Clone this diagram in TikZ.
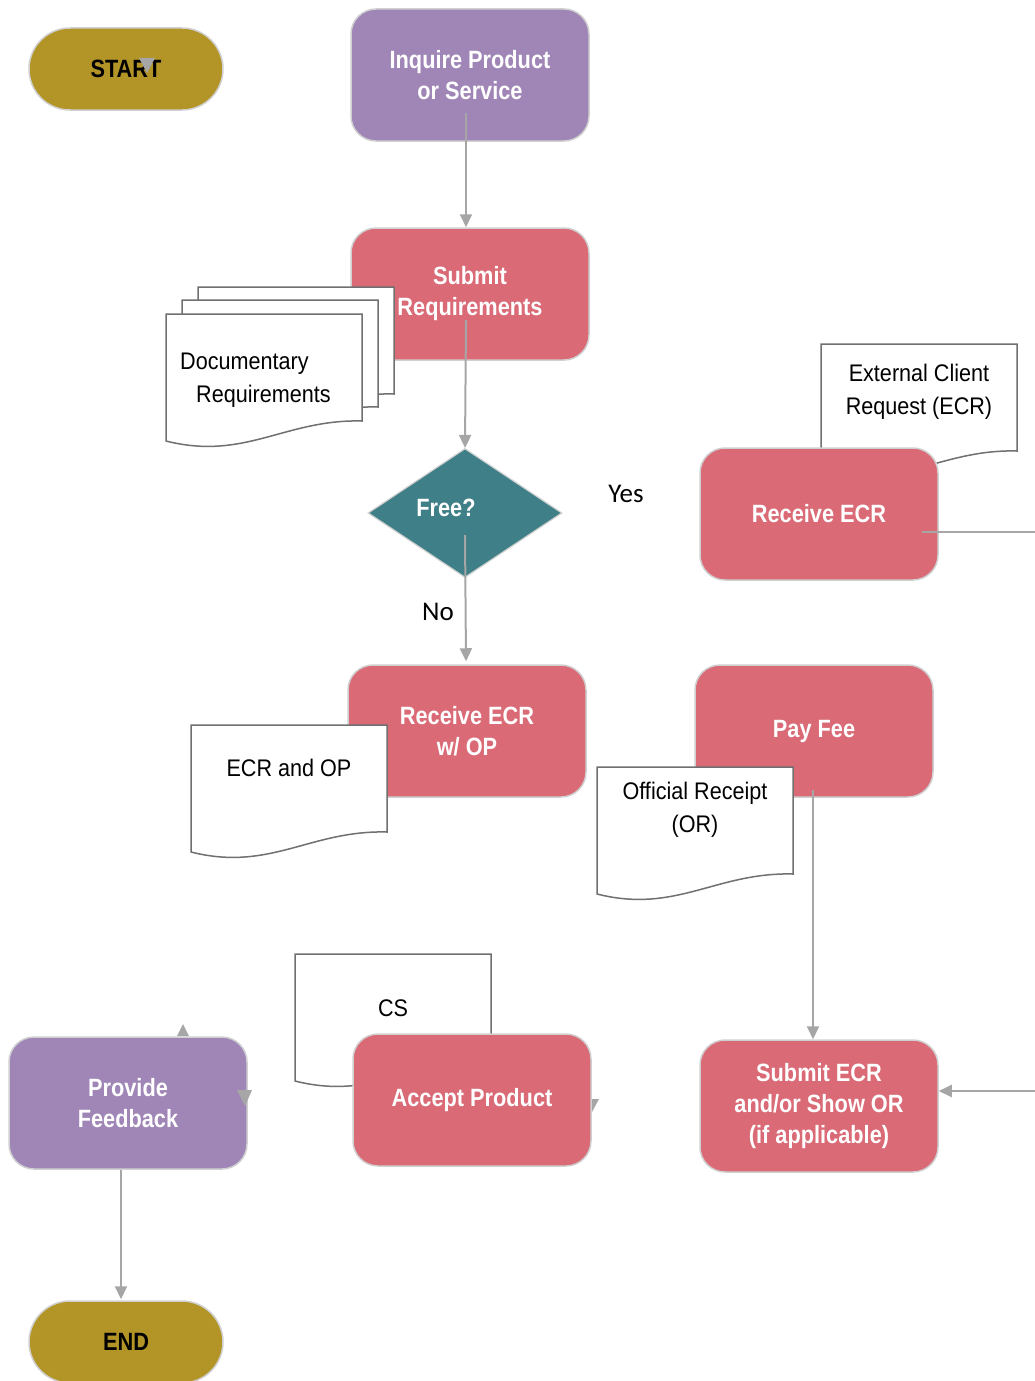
\documentclass[tikz,border=0pt]{standalone}
\usepackage{fontspec}
\setmainfont{Liberation Sans}
\newfontfamily\narrowfont[FakeStretch=0.87]{Liberation Sans}
\newfontfamily\docfont[FakeStretch=0.9]{Liberation Sans}
\newfontfamily\calfont{Carlito}
\usetikzlibrary{shapes.geometric,arrows.meta}
\definecolor{pinkc}{HTML}{D96A76}
\definecolor{purpc}{HTML}{A086B7}
\definecolor{goldc}{HTML}{B39427}
\definecolor{tealc}{HTML}{3F7F87}
\definecolor{bordergray}{HTML}{D0D0D0}
\definecolor{linegray}{HTML}{A6A6A6}
\definecolor{docgray}{HTML}{707070}
\tikzset{
  box/.style={rectangle, rounded corners=25pt, minimum width=238pt, minimum height=132pt,
    inner sep=0pt, draw=bordergray, line width=1.5pt, text=white, align=center,
    font=\narrowfont\bfseries\fontsize{25}{31}\selectfont},
  pinkbox/.style={box, fill=pinkc},
  purpbox/.style={box, fill=purpc},
  pill/.style={rectangle, rounded corners=41pt, minimum width=194pt, minimum height=82pt,
    inner sep=0pt, draw=bordergray, line width=1.5pt, fill=goldc, text=black,
    font=\narrowfont\bfseries\fontsize{25}{31}\selectfont},
  decision/.style={diamond, minimum width=194pt, minimum height=129pt, shape aspect=1.5,
    inner sep=0pt, fill=tealc, draw=bordergray, line width=1.2pt},
  doctext/.style={align=center, text=black, inner sep=0pt,
    font=\docfont\fontsize{24}{33}\selectfont},
  docline/.style={draw=docgray, fill=white, line width=1.5pt},
  ynlabel/.style={text=black, inner sep=0pt, font=\calfont\fontsize{27}{30}\selectfont},
  conn/.style={draw=linegray, line width=2pt},
  arr/.style={conn, -{Triangle[width=12pt,length=13pt]}},
  tip/.style={fill=linegray}
}
\newcommand\docshape[2]{%
  \path[docline] (#1,#2) -- ++(196,0) -- ++(0,107)
    .. controls +(-77,-2) and +(79,20) .. ++(-196,20) -- cycle;}
\begin{document}
\begin{tikzpicture}[x=1pt,y=-1pt]
\useasboundingbox (0,0) rectangle (1035,1381);

% terminals
\node[pill] (start) at (126,69) {START};
\fill[tip] (139,58) -- (155,58) -- (147,73) -- cycle;
\node[pill] (end) at (126,1342) {END};

% column 1
\node[purpbox] (inq) at (470,75) {Inquire Product\\or Service};
\node[pinkbox] (subreq) at (470,294) {Submit\\Requirements};

% documentary requirements stack
\docshape{198}{287}
\docshape{182}{300}
\docshape{166}{314}
\node[doctext, align=left, anchor=west] (docreq) at (180,380) {Documentary\\\hspace*{16pt}Requirements};

\node[decision] (free) at (465,513) {};
\node[text=white, inner sep=0pt, font=\narrowfont\bfseries\fontsize{25}{31}\selectfont] (freetxt) at (446,508) {Free?};
\node[ynlabel] (yes) at (626,494) {Yes};
\node[ynlabel] (no) at (438,612) {No};

\node[pinkbox] (recop) at (467,731) {Receive ECR\\w/ OP};
\docshape{191}{725}
\node[doctext] (ecrop) at (289,768) {ECR and OP};

% right column
\docshape{821}{344}
\node[doctext] (ecrdoc) at (919,392) {External Client\\Request (ECR)};
\node[pinkbox] (rececr) at (819,514) {Receive ECR};

\node[pinkbox] (payfee) at (814,731) {Pay Fee};
\docshape{597}{767}
\node[doctext] (ordoc) at (695,810) {Official Receipt\\(OR)};

\node[pinkbox] (subecr) at (819,1106) {Submit ECR\\and/or Show OR\\(if applicable)};

% bottom row
\docshape{295}{954}
\node[doctext] (csdoc) at (393,1008) {CS};
\fill[tip] (585,1099) -- (599,1099) -- (592,1112) -- cycle;
\node[pinkbox] (accept) at (472,1100) {Accept Product};

\node[purpbox] (feedback) at (128,1103) {Provide\\Feedback};
\fill[tip] (177,1036) -- (189,1036) -- (183,1024) -- cycle;
\fill[tip] (237,1090) -- (252,1090) -- (245,1106) -- cycle;

% connectors
\draw[arr] ([shift={(-4,38)}]inq.center) -- ([xshift=-4]subreq.north);
\draw[arr] ([shift={(-4,26)}]subreq.center) -- (free.north);
\draw[arr] ([shift={(0,22)}]free.center) -- ([shift={(-1,-3)}]recop.north);
\coordinate (rightA) at (1035,532);
\draw[conn] ([shift={(103,18)}]rececr.center) -- (rightA);
\draw[arr] ([shift={(-1,59)}]payfee.center) -- ([xshift=-6]subecr.north);
\coordinate (rightB) at (1035,1091);
\draw[arr] (rightB) -- (subecr.east |- rightB);
\draw[arr] ([xshift=-7]feedback.south) -- ([shift={(-5,-1)}]end.north);
\end{tikzpicture}
\end{document}
